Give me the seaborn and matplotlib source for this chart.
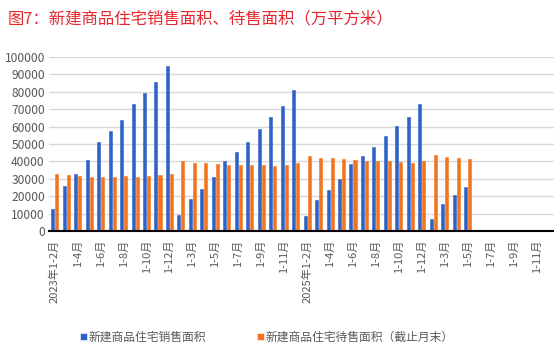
import matplotlib
matplotlib.use("Agg")
import matplotlib.pyplot as plt
import numpy as np
import pandas as pd
import seaborn as sns

# periods (cumulative 1-N月), 2023 Jan-Feb .. 2026 Jan-Dec
years = [2023, 2024, 2025, 2026]
periods = [f"{y}年1-{m}月" for y in years for m in range(2, 13)]
# tick text: year only on the first period of a year
tick_text = [p if p.endswith("1-2月") else p[5:] for p in periods]

# 新建商品住宅销售面积 (万平方米)
sales = [12500, 25800, 32800, 41000, 51400, 57600, 63800, 72800, 79600, 85500, 94600,
         9400, 18500, 23900, 31000, 40100, 45300, 50900, 58600, 65300, 71900, 81100,
         8500, 17700, 23700, 29700, 38700, 43400, 48200, 54900, 60100, 65500, 73000,
         7100, 15800, 20800, 25400]

# 新建商品住宅待售面积 (截止月末)
stock = [32600, 32000, 31800, 31200, 31200, 31200, 31800, 31200, 31800, 32000, 32900,
         40300, 39300, 38900, 38700, 38200, 38200, 38200, 37800, 37600, 37800, 38900,
         43000, 42200, 41800, 41200, 41000, 40500, 40500, 40100, 39900, 39100, 40500,
         43900, 42800, 42200, 41600]

series = ["新建商品住宅销售面积", "新建商品住宅待售面积（截止月末）"]
colors = ["#2F62C6", "#F2741E"]

n = len(sales)
df = pd.DataFrame({
    "月份": periods[:n] * 2,
    "面积": sales + stock,
    "系列": [series[0]] * n + [series[1]] * n,
})

sns.set_theme(style="white")
plt.rcParams["font.family"] = ["Noto Sans CJK SC", "DejaVu Sans"]

fig = plt.figure(figsize=(5.54, 3.61), dpi=100)
ax = fig.add_axes([0.0885, 0.36, 0.911, 0.482])

sns.barplot(data=df, x="月份", y="面积", hue="系列", order=periods, hue_order=series,
            palette=colors, saturation=1, width=0.7, gap=0.25, errorbar=None,
            linewidth=0.4, ax=ax)
# thin edge in the face colour so the narrow bars stay crisp
for cont, c in zip(ax.containers, colors):
    for bar in cont:
        bar.set_edgecolor(c)

ax.set_ylim(0, 100000)
ax.set_yticks(range(0, 100001, 10000))
ax.yaxis.grid(True, color="#D9D9D9", linewidth=1)
ax.set_axisbelow(True)
ax.set_xlim(-0.5, len(periods) - 0.5)
ax.set_xlabel("")
ax.set_ylabel("")

ax.set_xticks(range(0, len(periods), 2))
ax.set_xticklabels(tick_text[::2], rotation=90, fontsize=8, color="#595959")
ax.tick_params(axis="y", labelsize=8.7, labelcolor="#595959", length=0, pad=3)
ax.tick_params(axis="x", length=0, pad=6)

for s in ["top", "right", "left"]:
    ax.spines[s].set_visible(False)
ax.spines["bottom"].set_color("black")
ax.spines["bottom"].set_linewidth(1.5)

handles, labels = ax.get_legend_handles_labels()
ax.legend_.remove()
fig.legend(handles, labels, loc="center", bbox_to_anchor=(0.482, 0.067), ncol=2,
           frameon=False, fontsize=8.5, handlelength=0.55, handleheight=0.55,
           handletextpad=0.2, columnspacing=4.3, labelcolor="#595959")

fig.text(0.014, 0.947, "图7：新建商品住宅销售面积、待售面积（万平方米）",
         color="#E8262E", fontsize=11.8, va="center", ha="left")

fig.savefig("out.png", dpi=100)
